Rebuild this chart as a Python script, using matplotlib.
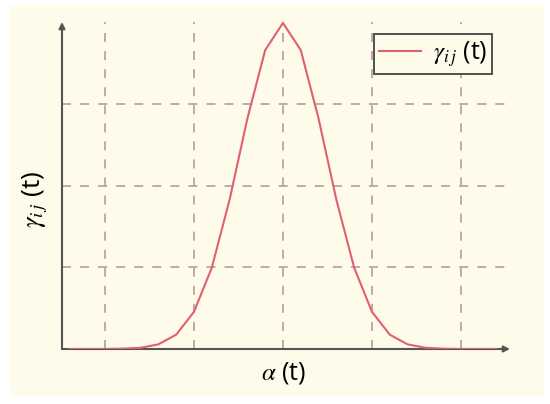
import matplotlib
matplotlib.use("Agg")
import matplotlib.pyplot as plt
from matplotlib.patches import Rectangle

# data
alpha = [-2.4, -2.2, -2.0, -1.8, -1.6, -1.4, -1.2, -1.0, -0.8, -0.6, -0.4, -0.2, 0.0,
         0.2, 0.4, 0.6, 0.8, 1.0, 1.2, 1.4, 1.6, 1.8, 2.0, 2.2, 2.4]
gamma = [0.0, 0.0, 0.0, 0.004, 0.015, 0.057, 0.176, 0.456, 0.997, 1.831, 2.827, 3.667, 4.0,
         3.667, 2.827, 1.831, 0.997, 0.456, 0.176, 0.057, 0.015, 0.004, 0.0, 0.0, 0.0]
xgrid = [-2, -1, 0, 1, 2]
ygrid = [1, 2, 3]
series_label = r"$\gamma_{i\,j}$ (t)"
xlabel = r"$\alpha$ (t)"
ylabel = r"$\gamma_{i\,j}$ (t)"

plt.rcParams["mathtext.fontset"] = "stix"

cream = "#FEFBEA"
fig = plt.figure(figsize=(5.5, 4.04), dpi=100, facecolor="white")
fig.patches.append(Rectangle((10/550, 1-396/404), 534/550, 391/404,
                             transform=fig.transFigure, facecolor=cream,
                             edgecolor="none", zorder=-10))

ax = fig.add_axes([62/550, 1-349/404, (510-62)/550, (349-22)/404])
ax.set_facecolor("none")
xmin, xmax = -2.483, 2.551
ymin, ymax = 0, 4.012
ax.set_xlim(xmin, xmax)
ax.set_ylim(ymin, ymax)
for s in ax.spines.values():
    s.set_visible(False)
ax.set_xticks([])
ax.set_yticks([])

gc = "#b8a6a4"
for gx in xgrid:
    ax.plot([gx, gx], [0, ymax], color=gc, lw=1.3, ls=(0, (5, 5)), zorder=1)
for gy in ygrid:
    ax.plot([xmin, 2.5], [gy, gy], color=gc, lw=1.3, ls=(0, (5, 5)), zorder=1)

ax.plot(alpha, gamma, color="#e0606e", lw=1.5, label=series_label, zorder=3)

axc = "#555555"
ax.annotate("", xy=(xmax, 0), xytext=(xmin, 0),
            arrowprops=dict(arrowstyle="-|>", color=axc, lw=1.5,
                            mutation_scale=9, shrinkA=0, shrinkB=0), zorder=2)
ax.annotate("", xy=(xmin, ymax), xytext=(xmin, 0),
            arrowprops=dict(arrowstyle="-|>", color=axc, lw=1.5,
                            mutation_scale=9, shrinkA=0, shrinkB=0), zorder=2)

fig.text(284/550, 1-373/404, xlabel, ha="center", va="center", fontsize=18,
         family="Open Sans")
fig.text(35/550, 1-199/404, ylabel, ha="center", va="center", fontsize=19,
         rotation=90, family="Open Sans")

leg = ax.legend(loc="upper right", bbox_to_anchor=(492/550, 1-34/404),
                bbox_transform=fig.transFigure, fancybox=False,
                facecolor=cream, edgecolor="#444444", framealpha=1,
                prop={"family": "Open Sans", "size": 18},
                handlelength=1.7, borderpad=0.2, handletextpad=0.45,
                borderaxespad=0)
leg.get_frame().set_linewidth(1.3)

fig.savefig("out.png", dpi=100, facecolor="white")
